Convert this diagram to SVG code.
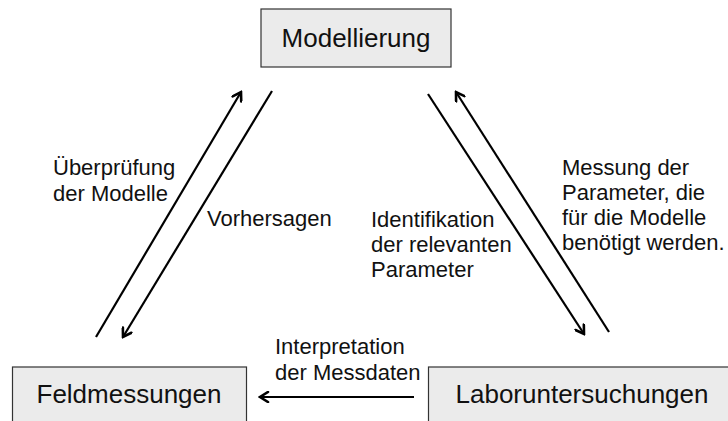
<svg xmlns="http://www.w3.org/2000/svg" width="728" height="421" viewBox="0 0 728 421">
<style>
.box{fill:#ebebeb;stroke:#333;stroke-width:1.2}
.nt{font-family:"Liberation Sans",Arial,sans-serif;font-size:26px;fill:#111;text-anchor:middle}
.lb{font-family:"Liberation Sans",Arial,sans-serif;font-size:22px;fill:#111}
.ar{stroke:#000;stroke-width:2.2;fill:none;marker-end:url(#ah)}
</style>
<defs>
<marker id="ah" viewBox="0 0 12 12" refX="10" refY="6" markerWidth="12" markerHeight="12" markerUnits="userSpaceOnUse" orient="auto">
<path d="M2,1 L10,6 L2,11" fill="none" stroke="#000" stroke-width="2.6" stroke-linecap="round" stroke-linejoin="miter"/>
</marker>
</defs>
<rect width="728" height="421" fill="#fff"/>
<g id="node-modellierung"><rect class="box" x="261" y="9" width="190" height="58"/><text class="nt" x="356" y="47">Modellierung</text></g>
<g id="node-feldmessungen"><rect class="box" x="12.5" y="367" width="234" height="70"/><text class="nt" x="129" y="403">Feldmessungen</text></g>
<g id="node-labor"><rect class="box" x="428.5" y="367" width="310" height="70"/><text class="nt" x="582" y="403">Laboruntersuchungen</text></g>
<g id="connectors">
<line class="ar" x1="96" y1="337" x2="241" y2="92"/>
<line class="ar" x1="272" y1="91" x2="123" y2="337"/>
<line class="ar" x1="428" y1="94" x2="584" y2="334"/>
<line class="ar" x1="609" y1="332" x2="456" y2="92"/>
<line class="ar" x1="414" y1="397" x2="260" y2="397"/>
</g>
<g id="labels">
<text class="lb" x="53" y="175">Überprüfung</text>
<text class="lb" x="53" y="201">der Modelle</text>
<text class="lb" x="207" y="226">Vorhersagen</text>
<text class="lb" x="371" y="227">Identifikation</text>
<text class="lb" x="371" y="252">der relevanten</text>
<text class="lb" x="371" y="277">Parameter</text>
<text class="lb" x="562" y="175">Messung der</text>
<text class="lb" x="562" y="200">Parameter, die</text>
<text class="lb" x="562" y="225">für die Modelle</text>
<text class="lb" x="562" y="250">benötigt werden.</text>
<text class="lb" x="275" y="354">Interpretation</text>
<text class="lb" x="275" y="380">der Messdaten</text>
</g>
</svg>
